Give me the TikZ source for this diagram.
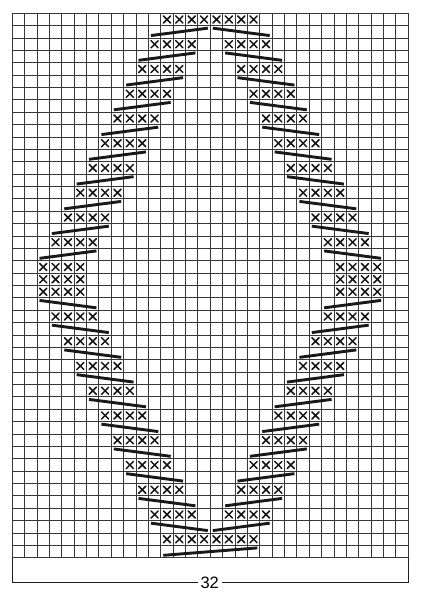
\documentclass[tikz,border=0pt]{standalone}
\usepackage{fontspec}
\setmainfont{Liberation Sans}
\begin{document}
\begin{tikzpicture}[
  gridline/.style={line width=1.1pt, draw=black!78},
  xline/.style={line width=1.5pt, draw=black!92, line cap=round},
  slant/.style={line width=2.9pt, draw=black!90},
  boxline/.style={line width=1.4pt, draw=black!88},
  lbl/.style={fill=white, inner xsep=3pt, inner ysep=1pt, font=\fontsize{16.5}{16.5}\selectfont},
  xst/.pic={\draw[xline] (-0.29,-0.29)--(0.29,0.29) (-0.29,0.29)--(0.29,-0.29);}
]
\path[use as bounding box] (0pt,0pt) rectangle (423pt,-600pt);
\begin{scope}[shift={(12.3pt,-13.3pt)}, x=12.375pt, y=-12.375pt]
  % grid
  \foreach \i in {0,...,32} \draw[gridline] (\i,0) -- (\i,44);
  \foreach \j in {0,...,44} \draw[gridline] (0,\j) -- (32,\j);
  % crosses: top and bottom rows
  \foreach \c in {12,...,19} {
    \pic at ({\c+0.5},0.5) {xst};
    \pic at ({\c+0.5},42.5) {xst};
  }
  % crosses: diagonal blocks
  \foreach \k in {1,...,10} {
    \foreach \d in {0,...,3} {
      \pic at ({12-\k+\d+0.5},{2*\k+0.5}) {xst};
      \pic at ({16+\k+\d+0.5},{2*\k+0.5}) {xst};
      \pic at ({12-\k+\d+0.5},{42-2*\k+0.5}) {xst};
      \pic at ({16+\k+\d+0.5},{42-2*\k+0.5}) {xst};
    }
  }
  \foreach \d in {0,...,3} {
    \pic at ({2+\d+0.5},21.5) {xst};
    \pic at ({26+\d+0.5},21.5) {xst};
  }
  % slanted bars
  \foreach \k in {0,...,9} {
    \pgfmathsetmacro\r{2*\k+1}
    \pgfmathsetmacro\s{41-2*\k}
    \draw[slant] ({11.2-\k},{\r+0.8}) -- ({15.8-\k},{\r+0.2});
    \draw[slant] ({16.2+\k},{\r+0.2}) -- ({20.8+\k},{\r+0.8});
    \draw[slant] ({11.2-\k},{\s+0.2}) -- ({15.8-\k},{\s+0.8});
    \draw[slant] ({16.2+\k},{\s+0.8}) -- ({20.8+\k},{\s+0.2});
  }
  \draw[slant] (12.2,43.8) -- (19.8,43.2);
  % bottom bracket box
  \draw[boxline] (0,44) -- (0,46) -- (32,46) -- (32,44);
  \node[lbl] (width) at (15.95,46) {32};
\end{scope}
\end{tikzpicture}
\end{document}
